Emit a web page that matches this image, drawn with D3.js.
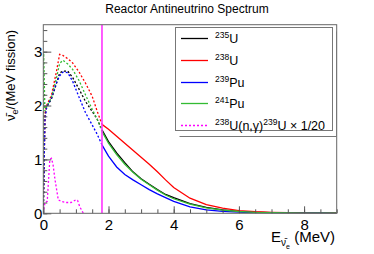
<!DOCTYPE html>
<html>
<head>
<meta charset="utf-8">
<script src="https://cdn.jsdelivr.net/npm/d3@7/dist/d3.min.js"></script>
<style>
  body { margin: 0; background: #fff; }
  text { font-family: "Liberation Sans", Arial, Helvetica, sans-serif; }
</style>
</head>
<body>
<div id="chart"></div>
<script>
var energies = [0, 0.01, 0.05, 0.1, 0.25, 0.4, 0.5, 0.6, 0.75, 0.9, 1.1, 1.3, 1.5, 1.65, 1.8,
    2.0, 2.25, 2.5, 2.75, 3.0, 3.25, 3.5, 3.75, 4.0, 4.5, 5.0, 5.5, 6.0, 6.5, 7.0, 7.5, 8.0, 8.5, 9.0];
var u235 = [0, 0.4, 1.8, 1.98, 2.12, 2.4, 2.6, 2.64, 2.64, 2.52, 2.3, 2.07, 1.89, 1.75, 1.55,
    1.33, 1.12, 0.94, 0.77, 0.64, 0.54, 0.44, 0.35, 0.29, 0.18, 0.11, 0.065, 0.035, 0.02, 0.012, 0.007, 0.004, 0.002, 0.001];
var u238 = [0, 0.4, 1.85, 2.0, 2.19, 2.62, 2.95, 2.93, 2.87, 2.79, 2.62, 2.41, 2.17, 1.9, 1.65,
    1.56, 1.43, 1.3, 1.17, 1.04, 0.91, 0.77, 0.62, 0.48, 0.28, 0.16, 0.095, 0.05, 0.03, 0.017, 0.01, 0.006, 0.003, 0.001];
var pu239 = [0, 0.3, 1.75, 1.95, 2.15, 2.42, 2.55, 2.62, 2.61, 2.45, 2.15, 1.86, 1.64, 1.47, 1.27,
    1.06, 0.86, 0.72, 0.62, 0.53, 0.44, 0.36, 0.29, 0.22, 0.12, 0.065, 0.035, 0.02, 0.01, 0.006, 0.003, 0.002, 0.001, 0.0];
var pu241 = [0, 3.0, 1.9, 1.98, 2.15, 2.5, 2.78, 2.84, 2.77, 2.67, 2.46, 2.19, 1.93, 1.75, 1.52,
    1.3, 1.09, 0.91, 0.76, 0.63, 0.53, 0.43, 0.34, 0.27, 0.17, 0.1, 0.06, 0.033, 0.018, 0.01, 0.006, 0.003, 0.002, 0.001];
var captureEnergies = [0, 0.05, 0.12, 0.2, 0.25, 0.3, 0.36, 0.46, 0.55, 0.7, 0.85, 1.0, 1.05, 1.12, 1.23];
var capture = [0, 0.2, 0.22, 1.0, 1.02, 0.9, 0.62, 0.25, 0.22, 0.2, 0.2, 0.25, 0.24, 0.12, 0];
var threshold = 1.8;
var xTicks = [0, 2, 4, 6, 8];
var yTicks = [0, 1, 2, 3];

var W = 374, H = 254;
var fLeft = 43.3, fRight = 336.7, fTop = 24.7, fBottom = 213.3;

var svg = d3.select("#chart").append("svg")
    .attr("width", W).attr("height", H);

var x = d3.scaleLinear().domain([0, 9]).range([fLeft, fRight]);
var y = d3.scaleLinear().domain([0, 3.5]).range([fBottom, fTop]);

svg.append("text")
    .attr("x", 187).attr("y", 13)
    .attr("text-anchor", "middle")
    .attr("font-size", 12)
    .text("Reactor Antineutrino Spectrum");

svg.append("clipPath").attr("id", "plotclip")
    .append("rect")
    .attr("x", fLeft).attr("y", fTop).attr("width", fRight - fLeft).attr("height", fBottom - fTop);

var plot = svg.append("g").attr("clip-path", "url(#plotclip)");

var line = d3.line()
    .x(function(d) { return x(d[0]); })
    .y(function(d) { return y(d[1]); });

var series = [
    { values: u235, color: "#000000" },
    { values: u238, color: "#ff0000" },
    { values: pu239, color: "#0000ff" },
    { values: pu241, color: "#33bb33" }
];

series.forEach(function(s) {
    var pts = energies.map(function(e, i) { return [e, s.values[i]]; });
    var below = pts.filter(function(p) { return p[0] <= threshold; });
    var above = pts.filter(function(p) { return p[0] >= threshold; });
    plot.append("path").datum(below)
        .attr("d", line).attr("fill", "none")
        .attr("stroke", s.color).attr("stroke-width", 1.3)
        .attr("stroke-dasharray", "2,2");
    plot.append("path").datum(above)
        .attr("d", line).attr("fill", "none")
        .attr("stroke", s.color).attr("stroke-width", 1.3);
});

plot.append("path")
    .datum(captureEnergies.map(function(e, i) { return [e, capture[i]]; }))
    .attr("d", line).attr("fill", "none")
    .attr("stroke", "#ff00ff").attr("stroke-width", 1.3)
    .attr("stroke-dasharray", "2,2");

plot.append("line")
    .attr("x1", x(threshold)).attr("x2", x(threshold))
    .attr("y1", y(0)).attr("y2", y(3.5))
    .attr("stroke", "#ff33ff").attr("stroke-width", 1.6);

// axes: ticks drawn inside the frame, ROOT style
var fmt = d3.format("d");
var xMinor = d3.axisBottom(x).tickValues(d3.range(0, 9.01, 0.5)).tickSizeInner(-4).tickSizeOuter(0).tickFormat("");
var xMajor = d3.axisBottom(x).tickValues(xTicks).tickSizeInner(-7).tickSizeOuter(0).tickPadding(6).tickFormat(fmt);
var yMinor = d3.axisLeft(y).tickValues(d3.range(0, 3.51, 0.2)).tickSizeInner(-4).tickSizeOuter(0).tickFormat("");
var yMajor = d3.axisLeft(y).tickValues(yTicks).tickSizeInner(-8).tickSizeOuter(0).tickPadding(1).tickFormat(fmt);

[[xMinor, "b"], [xMajor, "b"], [yMinor, "l"], [yMajor, "l"]].forEach(function(a) {
    var g = svg.append("g")
        .attr("transform", a[1] == "b" ? "translate(0," + fBottom + ")" : "translate(" + fLeft + ",0)")
        .call(a[0]);
    g.select(".domain").remove();
    g.selectAll("line").attr("stroke", "#555");
    g.selectAll("text").attr("font-size", 15).attr("fill", "#000")
        .attr("font-family", "Liberation Sans, Arial, sans-serif");
});

svg.append("rect")
    .attr("x", fLeft).attr("y", fTop).attr("width", fRight - fLeft).attr("height", fBottom - fTop)
    .attr("fill", "none").attr("stroke", "#666").attr("stroke-width", 1);

// axis titles
var xt = svg.append("text")
    .attr("x", 335).attr("y", 241.5)
    .attr("text-anchor", "end")
    .attr("font-size", 15);
xt.append("tspan").text("E");
xt.append("tspan").attr("font-size", 10).attr("dy", 4).text("\u03bd\u0304");
xt.append("tspan").attr("font-size", 7).attr("dy", 3).text("e");
xt.append("tspan").attr("dy", -7).text(" (MeV)");

var yt = svg.append("text")
    .attr("transform", "translate(15,30) rotate(-90)")
    .attr("text-anchor", "end")
    .attr("font-size", 13);
yt.append("tspan").text("\u03bd\u0304");
yt.append("tspan").attr("font-size", 9).attr("dy", 3).text("e");
yt.append("tspan").attr("dy", -3).text("/(MeV fission)");

// legend
var legendEntries = [
    { parts: [["235", 1], ["U", 0]], color: "#000000", dash: null },
    { parts: [["238", 1], ["U", 0]], color: "#ff0000", dash: null },
    { parts: [["239", 1], ["Pu", 0]], color: "#0000ff", dash: null },
    { parts: [["241", 1], ["Pu", 0]], color: "#33bb33", dash: null },
    { parts: [["238", 1], ["U(n,\u03b3)", 0], ["239", 1], ["U \u00d7 1/20", 0]], color: "#ff00ff", dash: "2,2" }
];

var lx = 175.5, ly = 27.5, lw = 157, lh = 103;
svg.append("path")
    .attr("d", "M" + (lx + 4) + "," + (ly + lh + 6) + "H336.5V" + (ly + 4))
    .attr("fill", "none").attr("stroke", "#777").attr("stroke-width", 1);
svg.append("rect")
    .attr("x", lx).attr("y", ly).attr("width", lw).attr("height", lh)
    .attr("fill", "#fff").attr("stroke", "#777").attr("stroke-width", 1);

var rows = svg.append("g").selectAll("g").data(legendEntries).enter().append("g")
    .attr("transform", function(d, i) { return "translate(0," + (Math.round(37.7 + i * 21.9) + 0.5) + ")"; });

rows.append("line")
    .attr("x1", 181).attr("x2", 208).attr("y1", 0).attr("y2", 0)
    .attr("stroke", function(d) { return d.color; })
    .attr("stroke-width", 1.3)
    .attr("stroke-dasharray", function(d) { return d.dash; });

rows.append("text")
    .attr("x", 215).attr("y", 4.5)
    .attr("font-size", 12.5)
    .each(function(d) {
        var t = d3.select(this);
        d.parts.forEach(function(p, i) {
            var prevSup = i > 0 && d.parts[i - 1][1];
            var dy = p[1] ? -5 : (prevSup ? 5 : 0);
            t.append("tspan")
                .attr("font-size", p[1] ? 8.5 : 12.5)
                .attr("dy", dy)
                .text(p[0]);
        });
    });
</script>
</body>
</html>
